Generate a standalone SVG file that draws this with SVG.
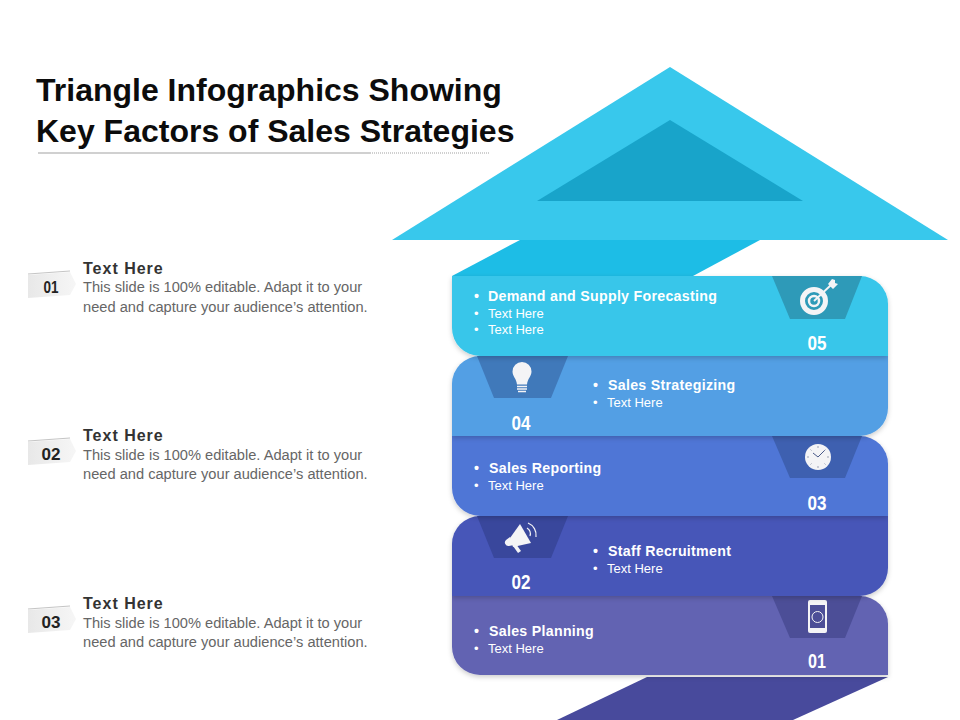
<svg xmlns="http://www.w3.org/2000/svg" width="960" height="720" viewBox="0 0 960 720">
<defs>
<style>
text{font-family:"Liberation Sans",Arial,sans-serif}
.title{font-size:32px;font-weight:700;fill:#0c0c0c}
.h{font-size:16px;font-weight:700;fill:#333;letter-spacing:1px}
.b{font-size:14.65px;fill:#666}
.tag{font-size:17px;font-weight:700;fill:#222;text-anchor:middle}
.bh{font-size:14.2px;font-weight:700;fill:#fff;letter-spacing:.29px}
.bt{font-size:13px;fill:#fff}
.n{font-size:20px;font-weight:700;fill:#fff;text-anchor:middle}
.w{fill:#f4f4f6}
</style>
<filter id="sh" x="-5%" y="-10%" width="110%" height="125%"><feDropShadow dx="0" dy="2" stdDeviation="2.5" flood-color="#000" flood-opacity=".2"/></filter>
<linearGradient id="tagfill" x1="0" y1="0" x2="1" y2="0"><stop offset="0" stop-color="#e8e8e8"/><stop offset="1" stop-color="#f6f6f6"/></linearGradient>
<g id="tagshape"><polygon points="28,275 70,272 76,284 70,295 28,298" fill="url(#tagfill)"/><line x1="28" y1="274" x2="70" y2="271" stroke="#c4c4c4" stroke-width="1"/></g>
</defs>
<rect width="960" height="720" fill="#fff"/>

<g id="title">
<text class="title" x="36" y="101">Triangle Infographics Showing</text>
<text class="title" x="36" y="142">Key Factors of Sales Strategies</text>
<line x1="38" y1="153" x2="370" y2="153" stroke="#d0d0d0" stroke-width="2"/>
<line x1="370" y1="153" x2="490" y2="153" stroke="#d0d0d0" stroke-width="2" stroke-dasharray="1 1"/>
</g>

<g id="arrow-tail"><polygon points="647,677 888,677 793,720 557,720" fill="#484a9c"/></g>
<g id="arrow-neck"><polygon points="520,240 760,240 693,276 452,276" fill="#1dbde6"/></g>
<g id="arrow-head">
<polygon points="670,67 948,240 392,240" fill="#38c8ec"/>
<polygon points="670,120 803,201 537,201" fill="#18a4ca"/>
</g>

<g id="band-01">
<path d="M452 596H860A28 28 0 0 1 888 624V675H480A28 28 0 0 1 452 647Z" fill="#6264b2" filter="url(#sh)"/>
<polygon points="772,596 862,596 845,638 790,638" fill="#4c4e97"/>
<rect x="808" y="600" width="19" height="33" rx="2" class="w"/>
<rect x="810" y="605" width="15" height="23" fill="#4c4e97"/>
<circle cx="817.500" cy="617" r="5.500" fill="none" stroke="#f4f4f6" stroke-width="1"/>
<text class="bh" x="474" y="636">•</text><text class="bh" x="489" y="636">Sales Planning</text>
<text class="bt" x="474" y="653">•</text><text class="bt" x="488" y="653">Text Here</text>
<text class="n" x="817" y="668" textLength="18" lengthAdjust="spacingAndGlyphs">01</text>
</g>

<g id="band-02">
<path d="M480 516H888V568A28 28 0 0 1 860 596H452V544A28 28 0 0 1 480 516Z" fill="#4757b8" filter="url(#sh)"/>
<polygon points="477,516 568,516 551,558 494,558" fill="#39479c"/>
<polygon points="510,538 520,524 531,543 513,547" class="w"/>
<path d="M510 537l-4 3a3.500 3.500 0 0 0 3 6l5-1Z" class="w"/>
<path d="M513 546l5 7 3-2-5-7Z" class="w"/>
<path d="M527 528a7 7 0 0 1 3 8M528 523a13 13 0 0 1 8 14" fill="none" stroke="#f4f4f6" stroke-width="1.200"/>
<text class="bh" x="593" y="556">•</text><text class="bh" x="608" y="556">Staff Recruitment</text>
<text class="bt" x="593" y="573">•</text><text class="bt" x="607" y="573">Text Here</text>
<text class="n" x="521" y="589" textLength="19" lengthAdjust="spacingAndGlyphs">02</text>
</g>

<g id="band-03">
<path d="M452 436H860A28 28 0 0 1 888 464V516H480A28 28 0 0 1 452 488Z" fill="#4f76d6" filter="url(#sh)"/>
<polygon points="772,436 862,436 845,478 790,478" fill="#3e60b0"/>
<circle cx="818" cy="457" r="13" class="w"/>
<path d="M813 453l5 4 7-7" fill="none" stroke="#4a5a8a" stroke-width="1"/>
<path d="M818 446v2M818 466v2M807 457h2M827 457h2M810.500 449.500l1 1M825.500 449.500l-1 1M810.500 464.500l1-1M825.500 464.500l-1-1" stroke="#9aa0b4" stroke-width="1"/>
<text class="bh" x="474" y="473">•</text><text class="bh" x="489" y="473">Sales Reporting</text>
<text class="bt" x="474" y="490">•</text><text class="bt" x="488" y="490">Text Here</text>
<text class="n" x="817" y="510" textLength="19" lengthAdjust="spacingAndGlyphs">03</text>
</g>

<g id="band-04">
<path d="M480 356H888V408A28 28 0 0 1 860 436H452V384A28 28 0 0 1 480 356Z" fill="#529fe4" filter="url(#sh)"/>
<polygon points="477,356 568,356 551,398 494,398" fill="#4079ba"/>
<path d="M522 362a9.500 9.500 0 0 1 9.500 9.500c0 5-4 7-4.500 13h-10c-.5-6-4.500-8-4.500-13a9.500 9.500 0 0 1 9.500-9.500Z" class="w"/>
<path d="M517 386.500h10M517 389h10M518 391.500h8" stroke="#f4f4f6" stroke-width="1.300"/>
<text class="bh" x="593" y="390">•</text><text class="bh" x="608" y="390">Sales Strategizing</text>
<text class="bt" x="593" y="407">•</text><text class="bt" x="607" y="407">Text Here</text>
<text class="n" x="521" y="430" textLength="19" lengthAdjust="spacingAndGlyphs">04</text>
</g>

<g id="band-05">
<path d="M452 276H860A28 28 0 0 1 888 304V356H480A28 28 0 0 1 452 328Z" fill="#38c6ea" filter="url(#sh)"/>
<polygon points="772,276 862,276 845,319 790,319" fill="#2e9ab8"/>
<circle cx="814" cy="301" r="11.500" fill="none" stroke="#f4f4f6" stroke-width="5"/>
<circle cx="814" cy="301" r="5" fill="none" stroke="#f4f4f6" stroke-width="2.500"/>
<path d="M814 301L831 285" stroke="#f4f4f6" stroke-width="1.800"/>
<polygon points="828,284 832,279 835,280 835,283 838,284 833,289" class="w"/>
<text class="bh" x="474" y="301">•</text><text class="bh" x="488" y="301">Demand and Supply Forecasting</text>
<text class="bt" x="474" y="318">•</text><text class="bt" x="488" y="318">Text Here</text>
<text class="bt" x="474" y="334">•</text><text class="bt" x="488" y="334">Text Here</text>
<text class="n" x="817" y="350" textLength="19" lengthAdjust="spacingAndGlyphs">05</text>
</g>

<g id="item-01">
<use href="#tagshape"/>
<text class="tag" x="51" y="293" textLength="15" lengthAdjust="spacingAndGlyphs">01</text>
<text class="h" x="83" y="274">Text Here</text>
<text class="b" x="83" y="292">This slide is 100% editable. Adapt it to your</text>
<text class="b" x="83" y="312">need and capture your audience’s attention.</text>
</g>
<g id="item-02">
<use href="#tagshape" y="167"/>
<text class="tag" x="51" y="460" textLength="19" lengthAdjust="spacingAndGlyphs">02</text>
<text class="h" x="83" y="441">Text Here</text>
<text class="b" x="83" y="460">This slide is 100% editable. Adapt it to your</text>
<text class="b" x="83" y="479">need and capture your audience’s attention.</text>
</g>
<g id="item-03">
<use href="#tagshape" y="335"/>
<text class="tag" x="51" y="628" textLength="19" lengthAdjust="spacingAndGlyphs">03</text>
<text class="h" x="83" y="609">Text Here</text>
<text class="b" x="83" y="628">This slide is 100% editable. Adapt it to your</text>
<text class="b" x="83" y="647">need and capture your audience’s attention.</text>
</g>
</svg>
